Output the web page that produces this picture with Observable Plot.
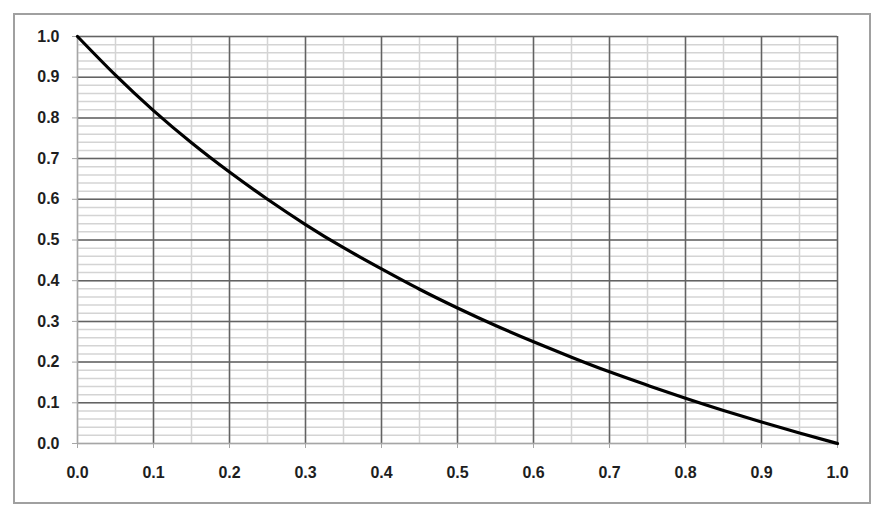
<!DOCTYPE html>
<html>
<head>
<meta charset="utf-8">
<script src="https://cdn.jsdelivr.net/npm/d3@7"></script>
<script src="https://cdn.jsdelivr.net/npm/@observablehq/plot@0.6"></script>
<style>
  body { margin: 0; background: #fff; }
  #chart svg { display: block; }
  #chart svg text { font-family: 'Liberation Sans', Arial, sans-serif !important; font-size: 16px !important; font-weight: bold !important; fill: #1e1e1e; }
</style>
</head>
<body>
<div id="chart"></div>
<script>
// values
const xs = [0, 0.05, 0.1, 0.15, 0.2, 0.25, 0.3, 0.35, 0.4, 0.45, 0.5,
            0.55, 0.6, 0.65, 0.7, 0.75, 0.8, 0.85, 0.9, 0.95, 1.0];
const ys = [1.0, 0.905, 0.818, 0.739, 0.667, 0.600, 0.538, 0.481, 0.429, 0.379, 0.333,
            0.290, 0.250, 0.212, 0.176, 0.143, 0.111, 0.081, 0.053, 0.026, 0.0];

const tickValues = [0, 0.1, 0.2, 0.3, 0.4, 0.5, 0.6, 0.7, 0.8, 0.9, 1.0];
const majorGrid = [0.1, 0.2, 0.3, 0.4, 0.5, 0.6, 0.7, 0.8, 0.9, 1.0];
const minorX = d3.range(0, 21).map(i => i / 20);
const minorY = d3.range(0, 51).map(i => i / 50);

const curve = xs.map((x, i) => ({x, y: ys[i]}));

const major_color = '#636363';
const minor_color = '#d4d4d4';
const axis_color = '#a6a6a6';

// outer border box, like the chart area of a spreadsheet chart
const border = (index, scales, values, dims) => {
  const g = d3.create("svg:g");
  g.append("rect")
    .attr("x", 14).attr("y", 14)
    .attr("width", dims.width - 14 - 13)
    .attr("height", dims.height - 14 - 14)
    .attr("fill", "none")
    .attr("stroke", "#a0a0a0")
    .attr("stroke-width", 2);
  return g.node();
};

const fig = Plot.plot({
  width: 883,
  height: 517,
  marginLeft: 77,
  marginRight: 46,
  marginTop: 36,
  marginBottom: 74,
  x: {domain: [0, 1]},
  y: {domain: [0, 1]},
  marks: [
    border,
    Plot.ruleX(minorX, {stroke: minor_color, strokeWidth: 1.5}),
    Plot.ruleY(minorY, {stroke: minor_color, strokeWidth: 1.5}),
    Plot.ruleX(majorGrid, {stroke: major_color, strokeWidth: 1.5}),
    Plot.ruleY(majorGrid, {stroke: major_color, strokeWidth: 1.5}),
    Plot.ruleX([0], {stroke: axis_color, strokeWidth: 1.5}),
    Plot.ruleY([0], {stroke: axis_color, strokeWidth: 1.5}),
    Plot.axisX({ticks: tickValues, tickFormat: d3.format(".1f"), tickSize: 5, tickPadding: 18, stroke: axis_color, label: null}),
    Plot.axisY({ticks: tickValues, tickFormat: d3.format(".1f"), tickSize: 5, tickPadding: 13, stroke: axis_color, label: null}),
    Plot.line(curve, {x: "x", y: "y", stroke: "#000", strokeWidth: 3.2, curve: "natural"})
  ]
});

document.getElementById("chart").append(fig);
</script>
</body>
</html>
